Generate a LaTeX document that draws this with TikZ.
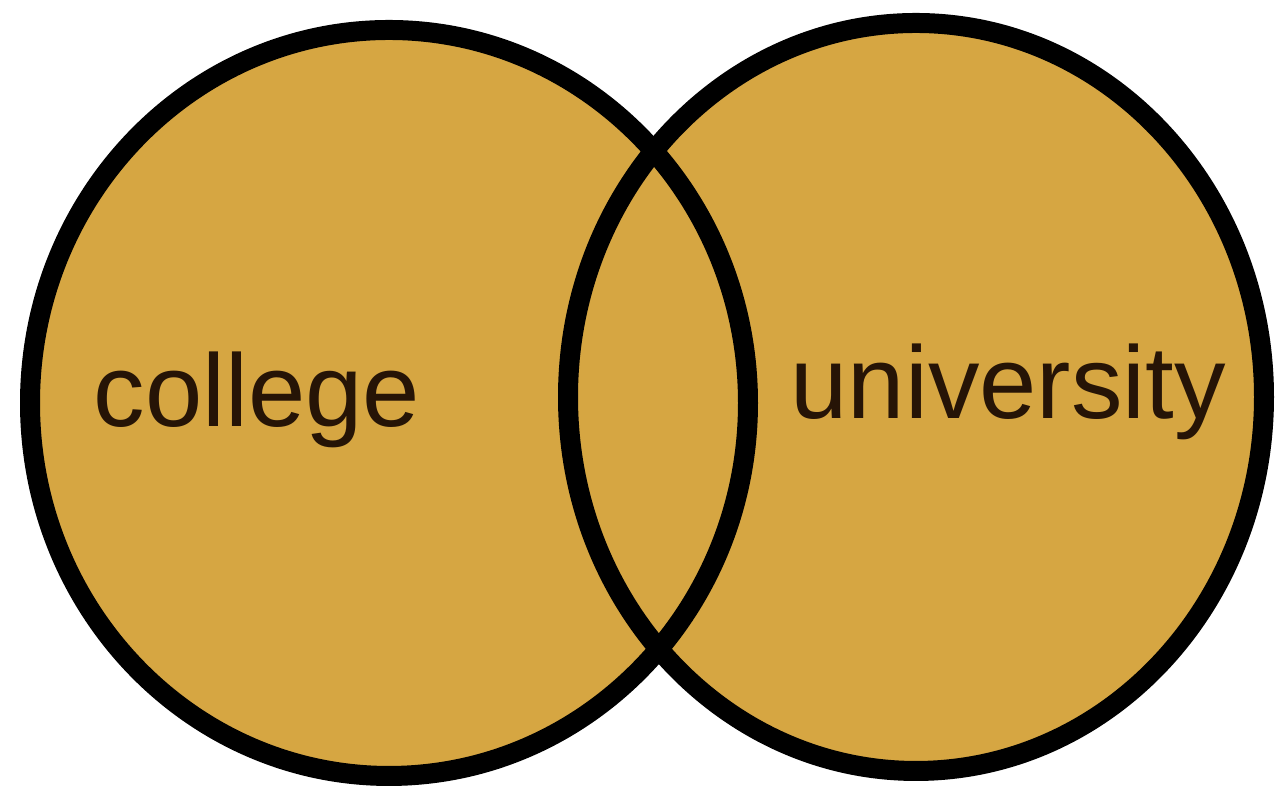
\documentclass[tikz,border=0pt]{standalone}
\usepackage{fontspec}
\setmainfont{Liberation Sans}
\definecolor{setgold}{RGB}{214,166,66}
\definecolor{labelink}{RGB}{38,20,6}
\tikzset{
  setfill/.style={fill=setgold},
  setline/.style={draw=black, line width=0.2cm},
  setlabel/.style={anchor=base west, inner sep=0pt, text=labelink,
    font=\fontsize{29.3}{35}\selectfont}
}
\begin{document}
\begin{tikzpicture}[x=1.0cm, y=1.0cm]
	% 1. 画布范围
	\useasboundingbox (0,0) rectangle (12.75,7.95);
	
	% 2. 两个集合的填充 (底层)
	\fill[setfill] (3.89,3.92) ellipse [x radius=3.59, y radius=3.73];
	\fill[setfill] (9.16,3.98) ellipse [x radius=3.48, y radius=3.74];
	
	% 3. 轮廓线
	\draw[setline] (3.89,3.92) ellipse [x radius=3.59, y radius=3.73];
	\draw[setline] (9.16,3.98) ellipse [x radius=3.48, y radius=3.74];
	
	% 4. 集合标签
	\node[setlabel] (college) at (0.93,3.68) {college};
	\node[setlabel] (university) at (7.90,3.76) {university};
\end{tikzpicture}
\end{document}
